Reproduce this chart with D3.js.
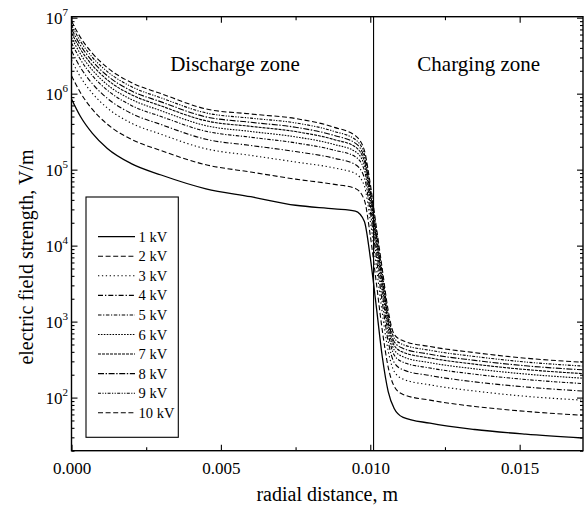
<!DOCTYPE html>
<html><head><meta charset="utf-8">
<script src="https://cdn.jsdelivr.net/npm/d3@7"></script>
<style>
body{margin:0;background:#fff}
text{font-family:"Liberation Serif","Times New Roman",serif;fill:#000}
</style>
</head><body>
<svg id="c" width="587" height="511"></svg>
<script>
// ---------- data ----------
const xs = [0, 0.0003, 0.0007, 0.0012, 0.002, 0.003, 0.0045, 0.006, 0.0075, 0.0088, 0.0095, 0.0098, 0.0100, 0.0102, 0.0104, 0.0106, 0.0108, 0.0111, 0.012, 0.0135, 0.0152, 0.0171];
const kv1  = [8.5e5, 5.0e5, 3.0e5, 1.9e5, 1.2e5, 8.5e4, 5.6e4, 4.4e4, 3.4e4, 3.05e4, 2.85e4, 2.1e4, 7.0e3, 1.6e3, 350, 120, 72, 55, 46, 38, 33, 29.4];
const kv2  = [1.72e6, 1.03e6, 6.2e5, 3.96e5, 2.51e5, 1.78e5, 1.16e5, 9.3e4, 7.5e4, 6.4e4, 5.66e4, 4.0e4, 1.36e4, 3.3e3, 778, 251, 141, 110, 92.5, 76.4, 65.9, 58.5];
const kv3  = [2.76e6, 1.66e6, 1.01e6, 6.47e5, 4.1e5, 2.92e5, 1.88e5, 1.54e5, 1.26e5, 1.05e5, 8.9e4, 6.15e4, 2.13e4, 5.37e3, 1320, 410, 221, 175, 147, 122, 104, 92.6];
const kv4  = [3.67e6, 2.21e6, 1.35e6, 8.67e5, 5.5e5, 3.92e5, 2.51e5, 2.08e5, 1.73e5, 1.41e5, 1.17e5, 7.9e4, 2.79e4, 7.18e3, 1820, 551, 290, 232, 195, 161, 138, 122];
const kv5  = [4.65e6, 2.81e6, 1.72e6, 1.11e6, 7.0e5, 5.0e5, 3.2e5, 2.67e5, 2.25e5, 1.8e5, 1.48e5, 9.9e4, 3.48e4, 9.1e3, 2380, 703, 363, 292, 245, 203, 173, 153];
const kv6  = [5.48e6, 3.32e6, 2.04e6, 1.31e6, 8.4e5, 5.96e5, 3.79e5, 3.18e5, 2.7e5, 2.14e5, 1.73e5, 1.15e5, 4.07e4, 1.08e4, 2860, 836, 425, 344, 288, 239, 204, 180];
const kv7  = [6.31e6, 3.84e6, 2.36e6, 1.52e6, 9.7e5, 6.9e5, 4.39e5, 3.71e5, 3.17e5, 2.48e5, 1.99e5, 1.3e5, 4.66e4, 1.25e4, 3360, 968, 486, 395, 332, 275, 234, 207];
const kv8  = [7.1e6, 4.33e6, 2.67e6, 1.72e6, 1.09e6, 7.8e5, 4.95e5, 4.2e5, 3.61e5, 2.81e5, 2.23e5, 1.45e5, 5.2e4, 1.41e4, 3840, 1094, 543, 444, 372, 309, 262, 232];
const kv9  = [8.0e6, 4.88e6, 3.01e6, 1.95e6, 1.24e6, 8.8e5, 5.58e5, 4.76e5, 4.12e5, 3.18e5, 2.49e5, 1.61e5, 5.82e4, 1.59e4, 4380, 1239, 608, 499, 419, 347, 294, 260];
const kv10 = [9.0e6, 5.5e6, 3.4e6, 2.2e6, 1.4e6, 1.0e6, 6.3e5, 5.4e5, 4.7e5, 3.6e5, 2.8e5, 1.8e5, 6.5e4, 1.8e4, 5.0e3, 1.4e3, 680, 560, 470, 390, 330, 292];
const seriesNames = ["1 kV","2 kV","3 kV","4 kV","5 kV","6 kV","7 kV","8 kV","9 kV","10 kV"];
const seriesValues = [kv1, kv2, kv3, kv4, kv5, kv6, kv7, kv8, kv9, kv10];
const xTicks = [0, 0.005, 0.010, 0.015];
const xTickLabels = ["0.000", "0.005", "0.010", "0.015"];
const xMinorTicks = [0.0025, 0.0075, 0.0125];
const yTickExps = [2, 3, 4, 5, 6, 7];
const zoneBoundary = 0.01011;
const zoneLabels = ["Discharge zone", "Charging zone"];

// ---------- styles ----------
const dashes = ["", "5,2.6", "1.3,2.6", "5,2,1.3,2", "3.5,1.6,1.2,1.6", "1.6,1.3", "3,1", "6,1.6,1.4,1.6", "3,1.4,1.2,1.4,1.2,1.4", "5,2.6"];

const svg = d3.select("#c");
const L = 71.5, R = 583, T = 16.7, B = 450.7;
const x = d3.scaleLinear().domain([0, 0.01712]).range([L, R]);
const y = d3.scaleLog().domain([20, 1.03e7]).range([B, T]);

// clip
svg.append("clipPath").attr("id","clip").append("rect")
  .attr("x", L).attr("y", T).attr("width", R-L).attr("height", B-T);

// curves
const line = d3.line().x(d => x(d[0])).y(d => y(d[1])).curve(d3.curveMonotoneX);
const g = svg.append("g").attr("clip-path","url(#clip)");
seriesValues.forEach((vals, i) => {
  g.append("path")
    .attr("d", line(xs.map((xv, j) => [xv, vals[j]])))
    .attr("fill","none").attr("stroke","#000")
    .attr("stroke-width", i === 0 ? 1.3 : 1.1)
    .attr("stroke-dasharray", dashes[i]);
});

// boundary line
svg.append("line").attr("x1", x(zoneBoundary)).attr("x2", x(zoneBoundary))
  .attr("y1", T).attr("y2", B).attr("stroke","#000").attr("stroke-width",1.1);

// axes
function styleAxis(sel){ sel.select(".domain").remove(); sel.selectAll("line").attr("stroke","#000").attr("stroke-width",1.1); }
const yMinor = [];
for (let e = 1; e <= 6; e++) for (let k = 2; k <= 9; k++) { const v = k*Math.pow(10,e); if (v >= 20 && v < 1.03e7) yMinor.push(v); }
const yMajor = yTickExps.map(e => Math.pow(10, e));

const ax = svg.append("g").attr("transform",`translate(0,${B})`)
  .call(d3.axisBottom(x).tickValues(xTicks).tickSize(-6).tickPadding(11).tickFormat((d,i)=>xTickLabels[i]));
styleAxis(ax);
ax.selectAll("text").attr("font-size","17px").attr("font-family","Liberation Serif");
const axm = svg.append("g").attr("transform",`translate(0,${B})`)
  .call(d3.axisBottom(x).tickValues(xMinorTicks).tickSize(-3.5).tickFormat(""));
styleAxis(axm);
const at = svg.append("g").attr("transform",`translate(0,${T})`)
  .call(d3.axisTop(x).tickValues(xTicks).tickSize(-6).tickFormat(""));
styleAxis(at);
const atm = svg.append("g").attr("transform",`translate(0,${T})`)
  .call(d3.axisTop(x).tickValues(xMinorTicks).tickSize(-3.5).tickFormat(""));
styleAxis(atm);

const ayl = svg.append("g").attr("transform",`translate(${L},0)`)
  .call(d3.axisLeft(y).tickValues(yMajor).tickSize(-6).tickFormat(""));
styleAxis(ayl);
const aylm = svg.append("g").attr("transform",`translate(${L},0)`)
  .call(d3.axisLeft(y).tickValues(yMinor).tickSize(-3).tickFormat(""));
styleAxis(aylm);
const ayr = svg.append("g").attr("transform",`translate(${R},0)`)
  .call(d3.axisRight(y).tickValues(yMajor).tickSize(-6).tickFormat(""));
styleAxis(ayr);
const ayrm = svg.append("g").attr("transform",`translate(${R},0)`)
  .call(d3.axisRight(y).tickValues(yMinor).tickSize(-3).tickFormat(""));
styleAxis(ayrm);

// y tick labels 10^n
yTickExps.forEach(e => {
  const yy = y(Math.pow(10, e));
  const t = svg.append("text").attr("x", L - 3.5).attr("y", yy + 6).attr("text-anchor","end").attr("font-size","17px");
  t.append("tspan").text("10");
  t.append("tspan").attr("font-size","11px").attr("dy", -8).text(String(e));
});

// frame
svg.append("rect").attr("x", L).attr("y", T).attr("width", R-L).attr("height", B-T)
  .attr("fill","none").attr("stroke","#000").attr("stroke-width",1.4);

// titles
svg.append("text").attr("x", (L+R)/2).attr("y", 501).attr("text-anchor","middle").attr("font-size","20px").text("radial distance, m");
svg.append("text").attr("transform","translate(33,257) rotate(-90)").attr("text-anchor","middle").attr("font-size","20px").text("electric field strength,  V/m");

// zone labels
svg.append("text").attr("x", 235).attr("y", 70.5).attr("text-anchor","middle").attr("font-size","21px").text(zoneLabels[0]);
svg.append("text").attr("x", 478.7).attr("y", 71).attr("text-anchor","middle").attr("font-size","21px").text(zoneLabels[1]);

// legend
const lg = svg.append("g");
lg.append("rect").attr("x", 86).attr("y", 197).attr("width", 92.3).attr("height", 240.3)
  .attr("fill","#fff").attr("stroke","#000").attr("stroke-width",1.1);
seriesNames.forEach((nm, i) => {
  const yy = 236.7 + i * 19.56;
  lg.append("line").attr("x1", 98).attr("x2", 135).attr("y1", yy).attr("y2", yy)
    .attr("stroke","#000").attr("stroke-width", i === 0 ? 1.3 : 1.1).attr("stroke-dasharray", dashes[i]);
  lg.append("text").attr("x", 138.5).attr("y", yy + 5).attr("font-size","14.5px").text(nm);
});
</script>
</body></html>
